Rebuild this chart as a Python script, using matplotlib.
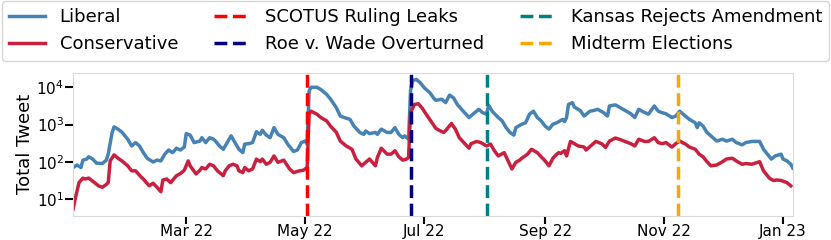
import numpy as np
import pandas as pd
import matplotlib
matplotlib.use("Agg")
import matplotlib.pyplot as plt
import matplotlib.dates as mdates
from matplotlib.ticker import NullLocator

# days counted from 2022-01-01, tweet counts
lib_days = [1, 3, 5, 6, 8, 9, 11, 13, 16, 18, 19, 21, 22, 24, 26, 29, 31, 33, 35, 37,
            39, 42, 44, 46, 48, 50, 52, 54, 56, 58, 59, 61, 63, 66, 67, 69, 71, 73, 74, 76,
            78, 80, 82, 84, 86, 88, 89, 91, 93, 95, 97, 98, 100, 102, 104, 106, 109, 111, 114, 116,
            118, 120, 121, 122, 123, 126, 128, 131, 133, 136, 138, 140, 143, 145, 148, 150, 151, 153, 156, 157,
            159, 162, 164, 166, 168, 170, 171, 173, 174, 175, 177, 179, 181, 184, 186, 187, 190, 192, 194, 196,
            198, 201, 204, 206, 209, 211, 213, 214, 216, 219, 221, 223, 225, 227, 228, 231, 233, 235, 237, 239,
            241, 243, 245, 247, 249, 252, 253, 254, 255, 257, 258, 261, 263, 266, 268, 270, 273, 275, 276, 279,
            281, 284, 287, 289, 291, 293, 296, 299, 301, 303, 305, 308, 310, 312, 315, 317, 320, 321, 322, 324,
            326, 328, 331, 334, 336, 339, 341, 344, 346, 349, 353, 355, 357, 359, 361, 364, 365, 367, 369, 370]
lib_vals = [71, 83, 71, 112, 120, 138, 120, 93, 91, 112, 162, 617, 871, 759, 631, 407, 269, 331, 269, 178,
            126, 100, 112, 107, 162, 209, 178, 234, 209, 251, 575, 525, 331, 363, 447, 331, 447, 407, 363, 269,
            219, 331, 501, 331, 219, 178, 302, 309, 331, 646, 550, 708, 525, 447, 832, 550, 447, 302, 191, 209,
            331, 363, 302, 7943, 10000, 10000, 8710, 6457, 4786, 2818, 1698, 1549, 1380, 912, 617, 550, 676, 575, 617, 550,
            759, 617, 617, 832, 550, 447, 501, 407, 7943, 15136, 16218, 13183, 9772, 7079, 5012, 4467, 4786, 3890, 6166, 5248,
            3467, 2291, 1549, 1905, 2570, 2089, 1905, 3311, 2239, 1549, 1259, 832, 617, 525, 832, 1023, 1122, 1905, 2291, 1549,
            1259, 912, 759, 1023, 1122, 1380, 1202, 1549, 3467, 3890, 2951, 2399, 1698, 2291, 2399, 2570, 2089, 1698, 3162, 3388,
            2951, 2399, 1950, 1549, 2570, 2239, 1905, 3162, 2291, 2089, 1950, 1549, 1698, 2291, 1698, 1380, 1122, 832, 1122, 912,
            617, 501, 363, 407, 363, 407, 331, 288, 331, 355, 355, 219, 162, 120, 145, 162, 120, 107, 87, 69]

con_days = [1, 2, 4, 6, 7, 9, 12, 14, 16, 18, 19, 20, 22, 24, 26, 29, 31, 33, 36, 37,
            40, 42, 44, 46, 47, 49, 51, 54, 56, 58, 60, 61, 64, 66, 67, 69, 71, 73, 75, 78,
            79, 81, 83, 85, 86, 88, 89, 91, 93, 95, 97, 98, 100, 102, 104, 106, 109, 112, 114, 117,
            119, 121, 122, 123, 126, 128, 131, 133, 136, 138, 141, 144, 146, 149, 151, 153, 156, 157, 159, 162,
            164, 166, 168, 170, 172, 173, 174, 176, 178, 180, 182, 185, 187, 189, 191, 192, 195, 197, 199, 202,
            204, 205, 208, 210, 213, 215, 217, 219, 222, 224, 226, 228, 230, 231, 234, 236, 239, 241, 243, 245,
            247, 249, 250, 251, 253, 254, 256, 257, 260, 263, 264, 267, 269, 272, 274, 276, 279, 281, 284, 287,
            289, 291, 294, 296, 299, 301, 303, 305, 308, 310, 312, 315, 317, 320, 322, 324, 326, 328, 331, 334,
            336, 339, 341, 344, 346, 349, 353, 355, 358, 360, 362, 364, 367, 369]
con_vals = [5.5, 10, 28, 37, 35, 37, 28, 23, 21, 25, 28, 107, 155, 126, 107, 79, 58, 58, 39, 35,
            23, 27, 21, 16, 33, 35, 28, 43, 49, 60, 107, 79, 48, 60, 71, 65, 87, 79, 58, 43,
            58, 79, 87, 79, 58, 52, 71, 58, 65, 120, 102, 120, 87, 98, 145, 98, 112, 65, 52, 58,
            60, 71, 1905, 2291, 1905, 1549, 1259, 912, 617, 363, 269, 219, 120, 79, 98, 120, 79, 132, 234, 162,
            162, 200, 138, 112, 120, 132, 2089, 3467, 3631, 2754, 1905, 1122, 794, 692, 617, 692, 1072, 759, 447, 302,
            234, 309, 355, 331, 269, 302, 200, 145, 178, 107, 65, 98, 112, 126, 162, 219, 178, 138, 107, 79,
            126, 162, 178, 170, 200, 145, 355, 331, 269, 251, 209, 288, 355, 309, 245, 363, 437, 407, 355, 309,
            269, 407, 355, 355, 447, 331, 309, 331, 251, 309, 363, 302, 251, 219, 162, 138, 102, 79, 83, 102,
            120, 126, 107, 87, 91, 87, 102, 58, 37, 32, 33, 32, 28, 23]

event_names = ['SCOTUS Ruling Leaks', 'Roe v. Wade Overturned', 'Kansas Rejects Amendment', 'Midterm Elections']
event_dates = ['2022-05-02', '2022-06-24', '2022-08-02', '2022-11-08']
event_colors = ['red', 'navy', 'teal', 'orange']

start = pd.Timestamp('2022-01-01')
lib_t = start + pd.to_timedelta(lib_days, unit='D')
con_t = start + pd.to_timedelta(con_days, unit='D')

fig = plt.figure(figsize=(8.31, 2.4), dpi=100)
ax = fig.add_axes([0.088, 0.102, 0.866, 0.594])

ax.plot(lib_t, lib_vals, color='#4682b4', lw=2.5, label='Liberal')
ax.plot(con_t, con_vals, color='#c8203e', lw=2.5, label='Conservative')
for name, d, c in zip(event_names, event_dates, event_colors):
    ax.axvline(pd.Timestamp(d), color=c, ls='--', lw=2.5, label=name)

ax.set_yscale('log')
ax.yaxis.set_minor_locator(NullLocator())
ax.set_xlim(lib_t[0], lib_t[-1])
ax.xaxis.set_major_locator(mdates.MonthLocator(bymonth=[1, 3, 5, 7, 9, 11]))
ax.xaxis.set_major_formatter(mdates.DateFormatter('%b %y'))
ax.set_ylabel('Total Tweet', fontsize=13, labelpad=2)
ax.tick_params(labelsize=11, length=5.5, width=1.5)
ax.tick_params(axis='x', pad=0.5)
ax.tick_params(axis='y', pad=1)
for s in ax.spines.values():
    s.set_color('0.85')

fig.legend(loc='upper center', bbox_to_anchor=(0.5, 0.995), borderaxespad=0,
           ncol=3, fontsize=13)

plt.savefig('out.png', dpi=100)
